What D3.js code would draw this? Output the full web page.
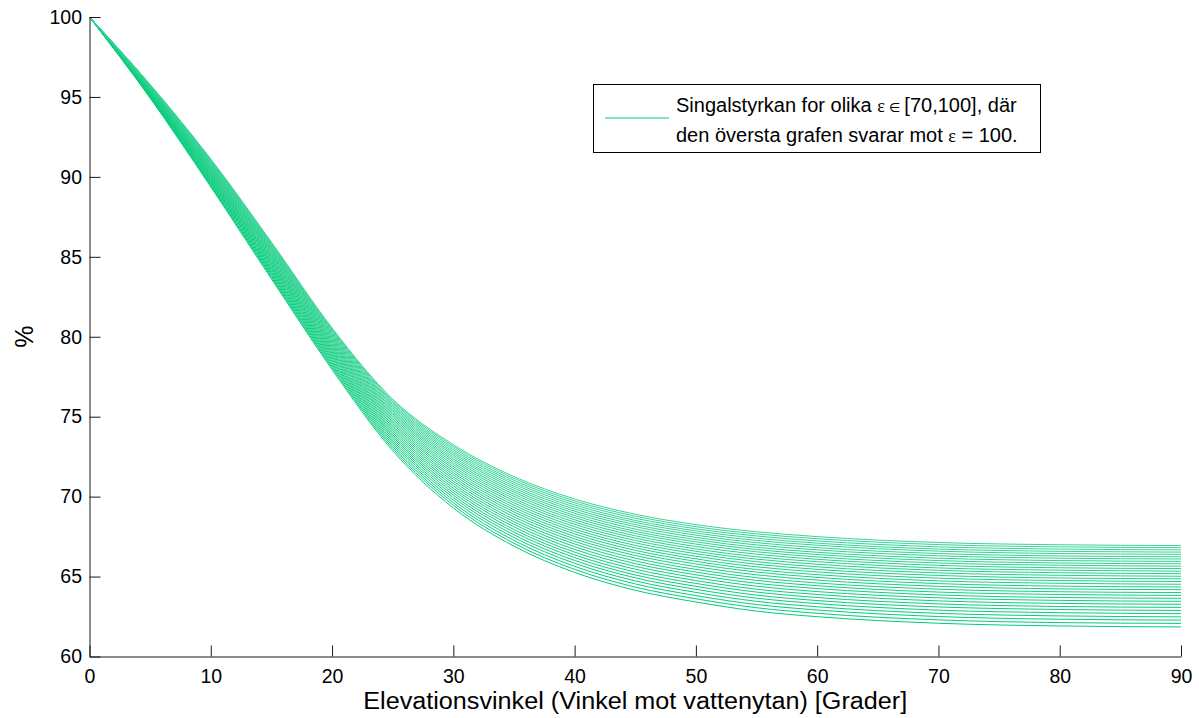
<!DOCTYPE html>
<html>
<head>
<meta charset="utf-8">
<script src="https://cdnjs.cloudflare.com/ajax/libs/d3/7.8.5/d3.min.js"></script>
<style>
  html, body { margin: 0; padding: 0; background: #fff; }
  svg { display: block; font-family: "Liberation Sans", Arial, sans-serif; }
</style>
</head>
<body>
<svg id="chart" width="1199" height="718"></svg>
<script>
// Elevation angles (degrees) where the signal strength is sampled
const angles = [0, 5, 10, 15, 20, 25, 30, 35, 40, 45, 50, 55, 60, 70, 80, 90];

// Relative permittivity of each curve
const epsilons = [70, 71, 72, 73, 74, 75, 76, 77, 78, 79, 80, 81, 82, 83, 84, 85,
                  86, 87, 88, 89, 90, 91, 92, 93, 94, 95, 96, 97, 98, 99, 100];

// Signal strength (%) at each angle, one value per permittivity (70 ... 100)
const pct0  = Array.from({ length: 31 }, () => 100);
const pct5  = [94.93, 94.97, 95.00, 95.04, 95.07, 95.10, 95.13, 95.17, 95.20, 95.23, 95.26, 95.29, 95.32, 95.35, 95.38, 95.40,
               95.43, 95.46, 95.49, 95.51, 95.54, 95.57, 95.59, 95.61, 95.64, 95.66, 95.69, 95.71, 95.74, 95.76, 95.78];
const pct10 = [89.37, 89.44, 89.52, 89.59, 89.66, 89.72, 89.79, 89.86, 89.92, 89.98, 90.05, 90.11, 90.17, 90.23, 90.29, 90.35,
               90.40, 90.46, 90.52, 90.57, 90.63, 90.68, 90.73, 90.78, 90.83, 90.88, 90.93, 90.98, 91.03, 91.08, 91.12];
const pct15 = [83.62, 83.72, 83.81, 83.90, 84.00, 84.09, 84.17, 84.26, 84.34, 84.43, 84.51, 84.59, 84.67, 84.75, 84.83, 84.90,
               84.98, 85.05, 85.13, 85.20, 85.27, 85.34, 85.41, 85.47, 85.54, 85.61, 85.67, 85.73, 85.80, 85.86, 85.92];
const pct20 = [77.95, 78.06, 78.17, 78.27, 78.37, 78.48, 78.57, 78.67, 78.77, 78.86, 78.96, 79.05, 79.14, 79.23, 79.32, 79.40,
               79.49, 79.57, 79.65, 79.73, 79.81, 79.89, 79.97, 80.04, 80.12, 80.19, 80.27, 80.34, 80.41, 80.48, 80.55];
const pct25 = [72.87, 73.01, 73.14, 73.27, 73.40, 73.52, 73.65, 73.77, 73.88, 74.00, 74.12, 74.23, 74.35, 74.46, 74.57, 74.67,
               74.78, 74.88, 74.99, 75.09, 75.19, 75.28, 75.38, 75.47, 75.57, 75.66, 75.75, 75.84, 75.93, 76.02, 76.10];
const pct30 = [69.29, 69.46, 69.62, 69.78, 69.94, 70.09, 70.24, 70.39, 70.53, 70.68, 70.82, 70.96, 71.10, 71.23, 71.37, 71.50,
               71.63, 71.76, 71.88, 72.01, 72.13, 72.25, 72.36, 72.48, 72.60, 72.71, 72.82, 72.93, 73.04, 73.15, 73.25];
const pct35 = [66.90, 67.08, 67.26, 67.44, 67.61, 67.78, 67.94, 68.11, 68.27, 68.43, 68.58, 68.74, 68.89, 69.04, 69.18, 69.33,
               69.47, 69.61, 69.75, 69.88, 70.02, 70.15, 70.28, 70.40, 70.53, 70.65, 70.78, 70.90, 71.02, 71.14, 71.25];
const pct40 = [65.26, 65.45, 65.64, 65.83, 66.01, 66.19, 66.36, 66.53, 66.70, 66.87, 67.04, 67.20, 67.36, 67.51, 67.67, 67.82,
               67.97, 68.12, 68.27, 68.41, 68.55, 68.69, 68.82, 68.96, 69.09, 69.22, 69.35, 69.48, 69.61, 69.73, 69.85];
const pct45 = [64.14, 64.34, 64.54, 64.73, 64.92, 65.10, 65.28, 65.46, 65.64, 65.81, 65.98, 66.15, 66.32, 66.48, 66.64, 66.80,
               66.95, 67.11, 67.26, 67.41, 67.55, 67.70, 67.83, 67.97, 68.12, 68.25, 68.39, 68.51, 68.65, 68.78, 68.90];
const pct50 = [63.41, 63.61, 63.81, 64.01, 64.20, 64.39, 64.57, 64.75, 64.93, 65.11, 65.28, 65.45, 65.62, 65.79, 65.95, 66.11,
               66.27, 66.43, 66.58, 66.73, 66.88, 67.03, 67.17, 67.31, 67.45, 67.59, 67.73, 67.86, 67.99, 68.12, 68.25];
const pct55 = [62.84, 63.05, 63.25, 63.45, 63.65, 63.84, 64.03, 64.21, 64.40, 64.58, 64.76, 64.93, 65.11, 65.28, 65.44, 65.61,
               65.77, 65.93, 66.09, 66.24, 66.40, 66.55, 66.69, 66.83, 66.98, 67.12, 67.26, 67.40, 67.54, 67.67, 67.80];
const pct60 = [62.49, 62.70, 62.91, 63.11, 63.31, 63.50, 63.69, 63.88, 64.06, 64.25, 64.43, 64.60, 64.78, 64.95, 65.12, 65.29,
               65.45, 65.61, 65.77, 65.93, 66.08, 66.23, 66.38, 66.52, 66.67, 66.81, 66.96, 67.09, 67.23, 67.37, 67.50];
const pct70 = [62.08, 62.29, 62.50, 62.70, 62.90, 63.10, 63.29, 63.48, 63.67, 63.85, 64.03, 64.21, 64.39, 64.56, 64.73, 64.90,
               65.07, 65.23, 65.39, 65.54, 65.70, 65.85, 66.00, 66.15, 66.30, 66.44, 66.59, 66.72, 66.86, 67.00, 67.13];
const pct80 = [61.91, 62.12, 62.33, 62.54, 62.74, 62.94, 63.13, 63.32, 63.51, 63.69, 63.88, 64.05, 64.23, 64.40, 64.58, 64.75,
               64.91, 65.08, 65.24, 65.40, 65.55, 65.71, 65.85, 66.00, 66.15, 66.29, 66.44, 66.58, 66.72, 66.86, 66.99];
const pct90 = [61.85, 62.07, 62.28, 62.48, 62.68, 62.88, 63.07, 63.27, 63.45, 63.64, 63.82, 64.00, 64.18, 64.35, 64.52, 64.69,
               64.86, 65.02, 65.18, 65.34, 65.50, 65.65, 65.80, 65.95, 66.10, 66.24, 66.39, 66.53, 66.67, 66.81, 66.94];

const byAngle = [pct0, pct5, pct10, pct15, pct20, pct25, pct30, pct35, pct40, pct45,
                 pct50, pct55, pct60, pct70, pct80, pct90];

const xTicks = [0, 10, 20, 30, 40, 50, 60, 70, 80, 90];
const yTicks = [60, 65, 70, 75, 80, 85, 90, 95, 100];

// one polyline per permittivity
const curves = epsilons.map((eps, j) => ({
  eps,
  points: angles.map((a, i) => ({ angle: a, value: byAngle[i][j] }))
}));

const svg = d3.select("#chart");
const frame = { left: 89.5, right: 1181, top: 17, bottom: 656.5 };

const x = d3.scaleLinear().domain([0, 90]).range([frame.left, frame.right]);
const y = d3.scaleLinear().domain([60, 100]).range([frame.bottom, frame.top]);

const color = d3.scaleLinear()
  .domain([70, 100])
  .range(["#00cc78", "#3ad498"])
  .interpolate(d3.interpolateRgb);

const axisColor = "#1a1a1a";

const line = d3.line()
  .x(d => x(d.angle))
  .y(d => y(d.value))
  .curve(d3.curveMonotoneX);

svg.append("g")
  .selectAll("path")
  .data(curves)
  .join("path")
  .attr("d", d => line(d.points))
  .attr("fill", "none")
  .attr("stroke", d => color(d.eps))
  .attr("stroke-width", 1);

// axes, ticks pointing into the plot
const xAxis = d3.axisBottom(x).tickValues(xTicks).tickSize(-11).tickPadding(13).tickSizeOuter(0);
const yAxis = d3.axisLeft(y).tickValues(yTicks).tickSize(-11).tickPadding(7.5).tickSizeOuter(0);

const gx = svg.append("g").attr("transform", `translate(0,${frame.bottom})`).call(xAxis);
const gy = svg.append("g").attr("transform", `translate(${frame.left},0)`).call(yAxis);

[gx, gy].forEach(g => {
  g.select(".domain").attr("stroke", axisColor);
  g.selectAll(".tick line").attr("stroke", axisColor);
  g.selectAll(".tick text").attr("fill", "#000")
    .style("font-size", "19.5px")
    .style("font-family", "'Liberation Sans', Arial, sans-serif");
});

// axis titles
svg.append("text")
  .attr("x", (frame.left + frame.right) / 2)
  .attr("y", 709)
  .attr("text-anchor", "middle")
  .attr("textLength", 544)
  .attr("lengthAdjust", "spacingAndGlyphs")
  .style("font-size", "23.5px")
  .text("Elevationsvinkel (Vinkel mot vattenytan) [Grader]");

svg.append("text")
  .attr("transform", `translate(33,${(frame.top + frame.bottom) / 2}) rotate(-90)`)
  .attr("text-anchor", "middle")
  .style("font-size", "25px")
  .text("%");

// legend
const lg = svg.append("g");
lg.append("rect")
  .attr("x", 593.5).attr("y", 84.5)
  .attr("width", 447).attr("height", 68)
  .attr("fill", "#fff").attr("stroke", "#000").attr("stroke-width", 1);
lg.append("line")
  .attr("x1", 605).attr("x2", 669)
  .attr("y1", 118).attr("y2", 118)
  .attr("stroke", color(70)).attr("stroke-width", 1);

const t1 = lg.append("text").attr("x", 676).attr("y", 112.3).style("font-size", "20px");
t1.append("tspan").text("Singalstyrkan for olika ");
t1.append("tspan").style("font-family", "'Liberation Serif', serif").style("font-size", "18px").text("\u03b5");
t1.append("tspan").style("font-family", "'DejaVu Sans', sans-serif").style("font-size", "13px").text(" \u2208 ");
t1.append("tspan").text(" [70,100], d\u00e4r");

const t2 = lg.append("text").attr("x", 676).attr("y", 141.7).style("font-size", "20px");
t2.append("tspan").text("den \u00f6versta grafen svarar mot ");
t2.append("tspan").style("font-family", "'Liberation Serif', serif").style("font-size", "18px").text("\u03b5");
t2.append("tspan").text(" = 100.");
</script>
</body>
</html>
